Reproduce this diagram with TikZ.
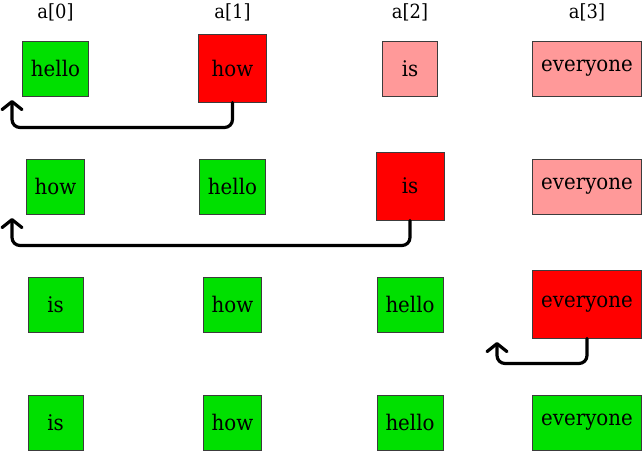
\documentclass[tikz,border=0pt]{standalone}
\usepackage{fontspec}
\setmainfont{DejaVu Serif}[FakeStretch=0.92]
\usetikzlibrary{arrows.meta}
\definecolor{gbox}{RGB}{0,224,0}
\definecolor{rbox}{RGB}{255,0,0}
\definecolor{pbox}{RGB}{255,153,153}
\definecolor{bord}{RGB}{60,60,60}
\tikzset{
  cell/.style={draw=bord, line width=1pt, inner xsep=8.5pt, inner ysep=0pt,
    minimum width=55pt, minimum height=55pt,
    font=\fontsize{21.5pt}{25pt}\selectfont},
  done/.style={cell, fill=gbox},
  cur/.style={cell, fill=rbox, minimum width=68pt, minimum height=68pt},
  todo/.style={cell, fill=pbox},
  head/.style={font=\fontsize{19.5pt}{23pt}\selectfont},
  move/.style={line width=3.2pt, rounded corners=8pt, line cap=round,
    -{Straight Barb[length=8pt,width=20pt,line width=3.2pt,round]}},
}
\begin{document}
\begin{tikzpicture}[x=1pt,y=-1pt]
\useasboundingbox (0,0) rectangle (643,451);
% headers
\node[head] (h0) at (55.5,12) {a[0]};
\node[head] (h1) at (232.5,12) {a[1]};
\node[head] (h2) at (410,12) {a[2]};
\node[head] (h3) at (587,12) {a[3]};
% row 1
\node[done] (r1a) at (55.5,68.5) {hello};
\node[cur]  (r1b) at (232.5,68) {how};
\node[todo] (r1c) at (410,68.5) {is};
\node[todo] (r1d) at (587,68.5) {everyone};
% row 2
\node[done] (r2a) at (55.5,186.5) {how};
\node[done] (r2b) at (232.5,186.5) {hello};
\node[cur]  (r2c) at (410,186) {is};
\node[todo] (r2d) at (587,186.5) {everyone};
% row 3
\node[done] (r3a) at (55.5,304.5) {is};
\node[done] (r3b) at (232.5,304.5) {how};
\node[done] (r3c) at (410,304.5) {hello};
\node[cur]  (r3d) at (587,304) {everyone};
% row 4
\node[done] (r4a) at (55.5,422.5) {is};
\node[done] (r4b) at (232.5,422.5) {how};
\node[done] (r4c) at (410,422.5) {hello};
\node[done] (r4d) at (587,422.5) {everyone};
% arrows
\coordinate (e1) at (12,100);
\coordinate (e2) at (12,218);
\coordinate (e3) at (497,342);
\draw[move] (r1b.south) -- ++(0,25) -| (e1);
\draw[move] (r2c.south) -- ++(0,25) -| (e2);
\draw[move] (r3d.south) -- ++(0,25) -| (e3);
\end{tikzpicture}
\end{document}
